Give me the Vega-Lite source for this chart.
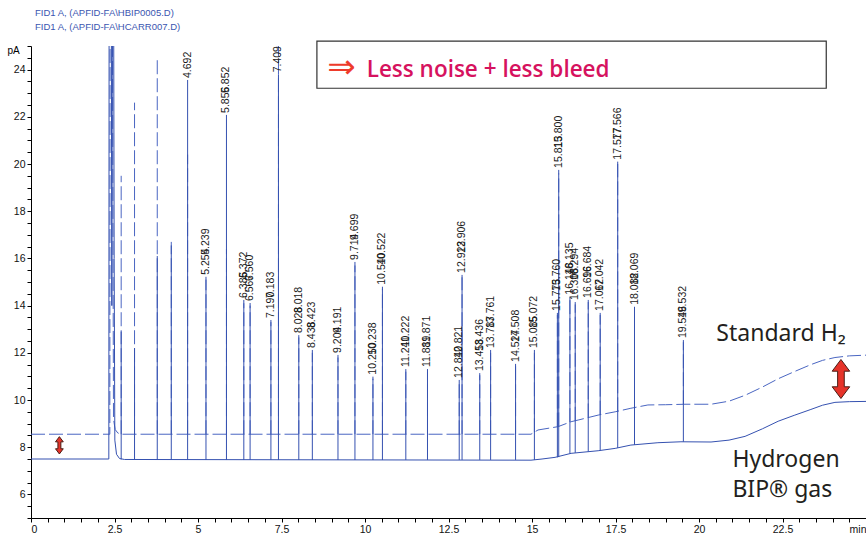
{
  "$schema": "https://vega.github.io/schema/vega-lite/v6.json",
  "width": 835,
  "height": 472,
  "autosize": "none",
  "padding": {"left": 31, "top": 46, "right": 0, "bottom": 20},
  "background": "white",
  "config": {"view": {"stroke": null}, "font": "Liberation Sans"},
  "title": {
    "text": "FID1 A, (APFID-FA\\HBIP0005.D)",
    "subtitle": "FID1 A, (APFID-FA\\HCARR007.D)",
    "anchor": "start",
    "frame": "group",
    "font": "Liberation Sans",
    "subtitleFont": "Liberation Sans",
    "fontSize": 9.5,
    "subtitleFontSize": 9.5,
    "fontWeight": "normal",
    "color": "#3a55b0",
    "subtitleColor": "#3a55b0",
    "offset": 9,
    "dx": 4,
    "subtitlePadding": 4
  },
  "datasets": {
    "h2": [
      {"t": 0, "v": 8.55}, {"t": 2.36, "v": 8.55}, {"t": 2.37, "v": 30}, {"t": 2.43, "v": 30},
      {"t": 2.47, "v": 9.2}, {"t": 2.52, "v": 8.75}, {"t": 2.6, "v": 8.6}, {"t": 2.7, "v": 8.55},
      {"t": 14.97, "v": 8.55}, {"t": 15.18, "v": 8.73}, {"t": 15.78, "v": 8.87}, {"t": 16.17, "v": 9.08},
      {"t": 16.38, "v": 9.15}, {"t": 16.98, "v": 9.36}, {"t": 17.49, "v": 9.5}, {"t": 17.96, "v": 9.65},
      {"t": 18.47, "v": 9.79}, {"t": 19.0, "v": 9.8}, {"t": 19.58, "v": 9.82}, {"t": 20.36, "v": 9.82},
      {"t": 20.9, "v": 9.95}, {"t": 21.38, "v": 10.2}, {"t": 21.9, "v": 10.55}, {"t": 22.37, "v": 10.9},
      {"t": 22.85, "v": 11.2}, {"t": 23.35, "v": 11.5}, {"t": 23.7, "v": 11.68}, {"t": 24.07, "v": 11.8},
      {"t": 24.5, "v": 11.87}, {"t": 25, "v": 11.9}
    ],
    "bip": [
      {"t": 0, "v": 7.5}, {"t": 2.33, "v": 7.5}, {"t": 2.34, "v": 30}, {"t": 2.4, "v": 30},
      {"t": 2.42, "v": 14.0}, {"t": 2.44, "v": 30}, {"t": 2.47, "v": 30}, {"t": 2.49, "v": 16.0},
      {"t": 2.51, "v": 8.3}, {"t": 2.56, "v": 7.7}, {"t": 2.65, "v": 7.52}, {"t": 2.8, "v": 7.48},
      {"t": 14.97, "v": 7.45}, {"t": 15.3, "v": 7.5}, {"t": 15.69, "v": 7.57}, {"t": 16.17, "v": 7.74},
      {"t": 16.98, "v": 7.85}, {"t": 17.49, "v": 7.95}, {"t": 17.96, "v": 8.09}, {"t": 18.77, "v": 8.19},
      {"t": 19.46, "v": 8.23}, {"t": 20.36, "v": 8.22}, {"t": 20.9, "v": 8.3}, {"t": 21.38, "v": 8.46},
      {"t": 21.9, "v": 8.78}, {"t": 22.37, "v": 9.1}, {"t": 22.85, "v": 9.35}, {"t": 23.35, "v": 9.6},
      {"t": 23.7, "v": 9.78}, {"t": 24.07, "v": 9.9}, {"t": 24.5, "v": 9.93}, {"t": 25, "v": 9.94}
    ],
    "peaks": [
      {"t": 2.70, "hb": 8.55, "ht": 19.5, "bb": 7.48, "bt": 12.9, "a": "", "b": ""},
      {"t": 3.10, "hb": 8.55, "ht": 22.6, "bb": 7.48, "bt": 12.2, "a": "", "b": ""},
      {"t": 3.78, "hb": 8.55, "ht": 24.4, "bb": 7.47, "bt": 16.1, "a": "", "b": ""},
      {"t": 4.20, "hb": 8.55, "ht": 16.7, "bb": 7.47, "bt": 16.55, "a": "", "b": ""},
      {"t": 4.689, "hb": 8.55, "ht": 20.4, "bb": 7.47, "bt": 23.56, "a": "4.692", "b": ""},
      {"t": 5.239, "hb": 8.55, "ht": 15.1, "bb": 7.46, "bt": 15.22, "a": "5.254", "b": "5.239"},
      {"t": 5.852, "hb": 8.55, "ht": 16.4, "bb": 7.46, "bt": 22.08, "a": "5.856", "b": "5.852"},
      {"t": 6.372, "hb": 8.55, "ht": 14.1, "bb": 7.46, "bt": 14.24, "a": "6.385", "b": "6.372"},
      {"t": 6.56, "hb": 8.55, "ht": 14.0, "bb": 7.46, "bt": 14.11, "a": "6.567", "b": "6.560"},
      {"t": 7.183, "hb": 8.55, "ht": 13.3, "bb": 7.46, "bt": 13.39, "a": "7.190", "b": "7.183"},
      {"t": 7.409, "hb": 8.55, "ht": 25.5, "bb": 7.46, "bt": 23.8, "a": "7.409", "b": ""},
      {"t": 8.018, "hb": 8.55, "ht": 12.65, "bb": 7.46, "bt": 12.75, "a": "8.028", "b": "8.018"},
      {"t": 8.423, "hb": 8.55, "ht": 12.0, "bb": 7.46, "bt": 12.12, "a": "8.438", "b": "8.423"},
      {"t": 9.191, "hb": 8.55, "ht": 11.8, "bb": 7.46, "bt": 11.91, "a": "9.204", "b": "9.191"},
      {"t": 9.699, "hb": 8.55, "ht": 15.7, "bb": 7.46, "bt": 15.85, "a": "9.714", "b": "9.699"},
      {"t": 10.238, "hb": 8.55, "ht": 10.9, "bb": 7.46, "bt": 10.99, "a": "10.250", "b": "10.238"},
      {"t": 10.522, "hb": 8.55, "ht": 14.7, "bb": 7.46, "bt": 14.8, "a": "10.540", "b": "10.522"},
      {"t": 11.222, "hb": 8.55, "ht": 11.2, "bb": 7.46, "bt": 11.31, "a": "11.240", "b": "11.222"},
      {"t": 11.871, "hb": 8.55, "ht": 11.2, "bb": 7.46, "bt": 11.31, "a": "11.889", "b": "11.871"},
      {"t": 12.821, "hb": 8.55, "ht": 10.75, "bb": 7.46, "bt": 10.85, "a": "12.840", "b": "12.821"},
      {"t": 12.906, "hb": 8.55, "ht": 15.2, "bb": 7.46, "bt": 15.3, "a": "12.923", "b": "12.906"},
      {"t": 13.436, "hb": 8.55, "ht": 11.05, "bb": 7.46, "bt": 11.14, "a": "13.458", "b": "13.436"},
      {"t": 13.761, "hb": 8.55, "ht": 12.0, "bb": 7.46, "bt": 12.12, "a": "13.787", "b": "13.761"},
      {"t": 14.508, "hb": 8.55, "ht": 11.45, "bb": 7.46, "bt": 11.53, "a": "14.527", "b": "14.508"},
      {"t": 15.072, "hb": 8.63, "ht": 12.0, "bb": 7.46, "bt": 12.12, "a": "15.085", "b": "15.072"},
      {"t": 15.76, "hb": 8.87, "ht": 13.6, "bb": 7.57, "bt": 13.69, "a": "15.773", "b": "15.760"},
      {"t": 15.8, "hb": 8.88, "ht": 19.6, "bb": 7.58, "bt": 19.75, "a": "15.813", "b": "15.800"},
      {"t": 16.135, "hb": 9.06, "ht": 14.3, "bb": 7.73, "bt": 14.38, "a": "16.148", "b": "16.135"},
      {"t": 16.294, "hb": 9.12, "ht": 14.05, "bb": 7.76, "bt": 14.15, "a": "16.308", "b": "16.294"},
      {"t": 16.684, "hb": 9.26, "ht": 14.15, "bb": 7.81, "bt": 14.24, "a": "16.696", "b": "16.684"},
      {"t": 17.042, "hb": 9.38, "ht": 13.6, "bb": 7.86, "bt": 13.69, "a": "17.062", "b": "17.042"},
      {"t": 17.566, "hb": 9.52, "ht": 20.0, "bb": 7.97, "bt": 20.1, "a": "17.577", "b": "17.566"},
      {"t": 18.069, "hb": 9.68, "ht": 13.85, "bb": 8.1, "bt": 13.95, "a": "18.082", "b": "18.069"},
      {"t": 19.532, "hb": 9.82, "ht": 12.45, "bb": 8.23, "bt": 12.54, "a": "19.546", "b": "19.532"}
    ]
  },
  "layer": [
    {
      "data": {"name": "h2"},
      "mark": {"type": "line", "clip": true, "color": "#4a66c2", "strokeWidth": 1, "strokeDash": [14, 4]},
      "encoding": {
        "x": {"field": "t", "type": "quantitative",
          "scale": {"domain": [0, 25], "nice": false, "zero": false},
          "axis": {"values": [0,0.5,1,1.5,2,2.5,3,3.5,4,4.5,5,5.5,6,6.5,7,7.5,8,8.5,9,9.5,10,10.5,11,11.5,12,12.5,13,13.5,14,14.5,15,15.5,16,16.5,17,17.5,18,18.5,19,19.5,20,20.5,21,21.5,22,22.5,23,23.5,24,24.5,25],
            "tickCount": 100,
            "labelExpr": "datum.value >= 25 ? 'min' : (datum.value % 2.5 == 0 ? toString(datum.value) : '')",
            "title": null, "grid": false, "domainColor": "#000", "tickColor": "#000",
            "tickSize": 4,
            "labelFontSize": 10.5, "labelColor": "#111", "labelPadding": 2,
            "labelFlush": true, "labelOverlap": false, "labelFont": "Liberation Sans"}},
        "y": {"field": "v", "type": "quantitative",
          "scale": {"domain": [5, 25], "nice": false, "zero": false},
          "axis": {"values": [5,5.5,6,6.5,7,7.5,8,8.5,9,9.5,10,10.5,11,11.5,12,12.5,13,13.5,14,14.5,15,15.5,16,16.5,17,17.5,18,18.5,19,19.5,20,20.5,21,21.5,22,22.5,23,23.5,24,24.5,25],
            "tickCount": 100,
            "labelExpr": "(datum.value % 2 == 0 && datum.value >= 6 && datum.value <= 24) ? toString(datum.value) : ''",
            "title": "pA", "titleAngle": 0, "titleX": -18, "titleY": 4, "titleAlign": "center",
            "titleBaseline": "middle", "titleFontSize": 10, "titleFontWeight": "normal", "titleFont": "Liberation Sans",
            "grid": false, "domainColor": "#000", "tickColor": "#000",
            "tickSize": 4,
            "labelFontSize": 10.5, "labelColor": "#111", "labelPadding": 2, "labelOverlap": false, "labelFont": "Liberation Sans"}}
      }
    },
    {
      "data": {"name": "bip"},
      "mark": {"type": "line", "clip": true, "color": "#3551b0", "strokeWidth": 1},
      "encoding": {
        "x": {"field": "t", "type": "quantitative"},
        "y": {"field": "v", "type": "quantitative"}
      }
    },
    {
      "data": {"name": "peaks"},
      "mark": {"type": "rule", "clip": true, "color": "#4a66c2", "strokeWidth": 1, "strokeDash": [14, 4]},
      "encoding": {
        "x": {"field": "t", "type": "quantitative"},
        "y": {"field": "hb", "type": "quantitative"},
        "y2": {"field": "ht"}
      }
    },
    {
      "data": {"name": "peaks"},
      "mark": {"type": "rule", "clip": true, "color": "#3551b0", "strokeWidth": 1},
      "encoding": {
        "x": {"field": "t", "type": "quantitative"},
        "y": {"field": "bb", "type": "quantitative"},
        "y2": {"field": "bt"}
      }
    },
    {
      "data": {"name": "peaks"},
      "mark": {"type": "text", "angle": 270, "align": "left", "baseline": "middle", "dx": 2,
        "font": "Liberation Sans", "fontSize": 10.5, "color": "#1a1a1a"},
      "encoding": {
        "x": {"field": "t", "type": "quantitative"},
        "y": {"field": "bt", "type": "quantitative"},
        "text": {"field": "a"}
      }
    },
    {
      "data": {"name": "peaks"},
      "mark": {"type": "text", "angle": 270, "align": "left", "baseline": "middle", "dx": 22,
        "font": "Liberation Sans", "fontSize": 10.5, "color": "#1a1a1a"},
      "encoding": {
        "x": {"field": "t", "type": "quantitative"},
        "y": {"field": "bt", "type": "quantitative"},
        "text": {"field": "b"}
      }
    },
    {
      "data": {"values": [{"x1": 8.56, "x2": 23.81, "y1": 25.21, "y2": 23.21}]},
      "mark": {"type": "rect", "fill": "white", "stroke": "#333333", "strokeWidth": 1.2, "clip": false},
      "encoding": {
        "x": {"field": "x1", "type": "quantitative"},
        "x2": {"field": "x2"},
        "y": {"field": "y1", "type": "quantitative"},
        "y2": {"field": "y2"}
      }
    },
    {
      "data": {"values": [{"t": 9.3, "v": 24.06, "s": "⇒"}]},
      "mark": {"type": "text", "font": "DejaVu Sans", "fontSize": 34, "color": "#ee3b2b", "align": "center", "baseline": "middle"},
      "encoding": {
        "x": {"field": "t", "type": "quantitative"},
        "y": {"field": "v", "type": "quantitative"},
        "text": {"field": "s"}
      }
    },
    {
      "data": {"values": [{"t": 10.05, "v": 23.69, "s": "Less noise + less bleed"}]},
      "mark": {"type": "text", "font": "Open Sans", "fontSize": 22.5, "fontWeight": 600, "color": "#d6125e", "align": "left", "baseline": "alphabetic"},
      "encoding": {
        "x": {"field": "t", "type": "quantitative"},
        "y": {"field": "v", "type": "quantitative"},
        "text": {"field": "s"}
      }
    },
    {
      "data": {"values": [
        {"t": 20.52, "v": 12.5, "s": "Standard H₂"},
        {"t": 21.0, "v": 7.17, "s": "Hydrogen"},
        {"t": 21.0, "v": 5.9, "s": "BIP® gas"}
      ]},
      "mark": {"type": "text", "font": "Noto Sans", "fontSize": 23, "color": "#231f20", "align": "left", "baseline": "alphabetic"},
      "encoding": {
        "x": {"field": "t", "type": "quantitative"},
        "y": {"field": "v", "type": "quantitative"},
        "text": {"field": "s"}
      }
    },
    {
      "data": {"values": [{"t": 0.85, "v": 8.08}]},
      "mark": {"type": "point", "filled": true, "fill": "#e63329", "stroke": "#4a1c14", "strokeWidth": 1, "opacity": 1, "size": 300,
        "shape": "M0,-1L0.45,-0.4L0.17,-0.4L0.17,0.4L0.45,0.4L0,1L-0.45,0.4L-0.17,0.4L-0.17,-0.4L-0.45,-0.4Z"},
      "encoding": {
        "x": {"field": "t", "type": "quantitative"},
        "y": {"field": "v", "type": "quantitative"}
      }
    },
    {
      "data": {"values": [{"t": 24.25, "v": 10.89}]},
      "mark": {"type": "point", "filled": true, "fill": "#e63329", "stroke": "#4a1c14", "strokeWidth": 1, "opacity": 1, "size": 1521,
        "shape": "M0,-1L0.45,-0.4L0.17,-0.4L0.17,0.4L0.45,0.4L0,1L-0.45,0.4L-0.17,0.4L-0.17,-0.4L-0.45,-0.4Z"},
      "encoding": {
        "x": {"field": "t", "type": "quantitative"},
        "y": {"field": "v", "type": "quantitative"}
      }
    }
  ]
}
